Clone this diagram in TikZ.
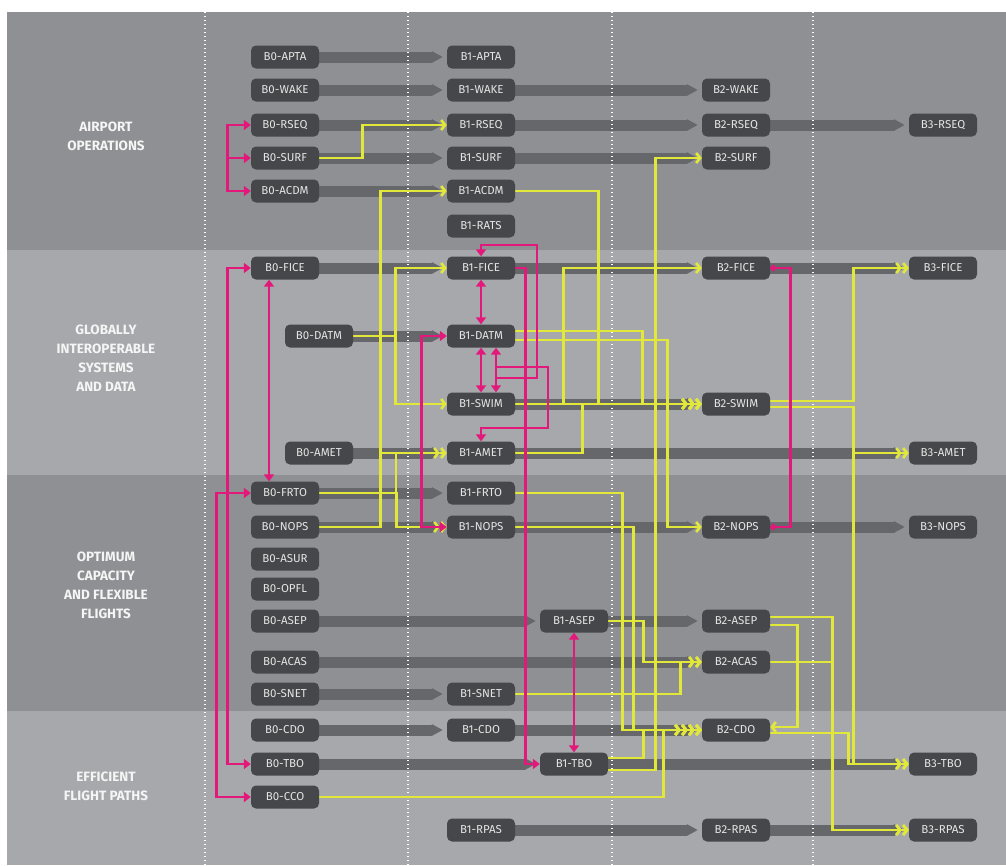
\documentclass[tikz,border=0pt]{standalone}
\usepackage{fontspec}
\setmainfont{Fira Sans}
\usetikzlibrary{arrows.meta}
\definecolor{bandA}{RGB}{143,144,148}
\definecolor{bandB}{RGB}{167,168,172}
\definecolor{threadgray}{RGB}{102,103,106}
\definecolor{modgray}{RGB}{70,71,74}
\definecolor{linkyellow}{RGB}{226,232,58}
\definecolor{linkpink}{RGB}{226,24,122}
\pgfdeclarelayer{bands}
\pgfdeclarelayer{bars}
\pgfdeclarelayer{links}
\pgfsetlayers{bands,bars,links,main}
\tikzset{
	tipA/.style={-{Straight Barb[length=4pt,width=10pt]}},
	tipB/.style={-{Straight Barb[length=4pt,width=10pt]Straight Barb[length=4pt,width=10pt]}},
	tipC/.style={-{Straight Barb[length=4pt,width=10pt]Straight Barb[length=4pt,width=10pt]Straight Barb[length=4pt,width=10pt]}},
	tipD/.style={-{Straight Barb[length=4pt,width=10pt]Straight Barb[length=4pt,width=10pt]Straight Barb[length=4pt,width=10pt]Straight Barb[length=4pt,width=10pt]}},
	module/.style={fill=modgray, rounded corners=5pt, minimum width=68pt, minimum height=23pt,
		inner sep=0pt, text=white!80!gray, font=\fontsize{11.5}{13}\selectfont},
	area/.style={align=center, text=white!92!gray, font=\fontsize{13.5}{19}\selectfont\bfseries},
	thread/.style={draw=threadgray, line width=11pt, -{Triangle[length=11pt,width=11pt]}, shorten >=4pt},
	ylw/.style={draw=linkyellow, line width=2.6pt},
	pnk/.style={draw=linkpink, line width=2.8pt, >={Triangle[length=7pt,width=10pt]}}
}
\begin{document}
\begin{tikzpicture}[x=1pt, y=-1pt]
	\useasboundingbox (0,0) rectangle (1006,865);
	\begin{pgfonlayer}{bands}
		\fill[white] (0,0) rectangle (1006,865);
		\fill[bandA] (7,12) rectangle (1006,250);
		\fill[bandB] (7,250) rectangle (1006,475);
		\fill[bandA] (7,475) rectangle (1006,711);
		\fill[bandB] (7,711) rectangle (1006,865);
	\end{pgfonlayer}
	\node[area] (ops) at (106,136) {AIRPORT\\OPERATIONS};
	\node[area] (sys) at (106,358) {GLOBALLY\\INTEROPERABLE\\SYSTEMS\\AND DATA};
	\node[area] (cap) at (106,585) {OPTIMUM\\CAPACITY\\AND FLEXIBLE\\FLIGHTS};
	\node[area] (fpa) at (106,786) {EFFICIENT\\FLIGHT PATHS};
	\def\blockzero{APTA/285/57, WAKE/285/90, RSEQ/285/125, SURF/285/158, ACDM/285/191, FICE/285/268,
		DATM/319/336, AMET/319/453, FRTO/285/493, NOPS/285/527, ASUR/285/559, OPFL/285/589,
		ASEP/285/621, ACAS/285/662, SNET/285/694, CDO/285/730, TBO/285/764, CCO/285/797}
	\def\blockone{APTA/481/57, WAKE/481/90, RSEQ/481/125, SURF/481/158, ACDM/481/191, RATS/481/226,
		FICE/481/268, DATM/481/336, SWIM/481/404, AMET/481/453, FRTO/481/493, NOPS/481/527,
		ASEP/574/621, SNET/481/694, CDO/481/730, TBO/574/764, RPAS/481/830}
	\def\blocktwo{WAKE/90, RSEQ/125, SURF/158, FICE/268, SWIM/404, NOPS/527, ASEP/621, ACAS/662,
		CDO/730, RPAS/830}
	\def\blockthree{RSEQ/125, FICE/268, AMET/453, NOPS/527, TBO/764, RPAS/830}
	\foreach \m/\x/\y in \blockzero{
		\node[module] (B0-\m) at (\x,\y) {B0-\m};
	}
	\foreach \m/\x/\y in \blockone{
		\node[module] (B1-\m) at (\x,\y) {B1-\m};
	}
	\foreach \m/\y in \blocktwo{
		\node[module] (B2-\m) at (736,\y) {B2-\m};
	}
	\foreach \m/\y in \blockthree{
		\node[module] (B3-\m) at (943,\y) {B3-\m};
	}
	\begin{pgfonlayer}{bars}
		\foreach \a/\b in {B0-APTA/B1-APTA, B0-WAKE/B1-WAKE, B1-WAKE/B2-WAKE, B0-RSEQ/B1-RSEQ,
			B1-RSEQ/B2-RSEQ, B2-RSEQ/B3-RSEQ, B0-SURF/B1-SURF, B1-SURF/B2-SURF, B0-ACDM/B1-ACDM,
			B0-FICE/B1-FICE, B1-FICE/B2-FICE, B2-FICE/B3-FICE, B0-DATM/B1-DATM, B1-SWIM/B2-SWIM,
			B0-AMET/B1-AMET, B1-AMET/B3-AMET, B0-FRTO/B1-FRTO, B0-NOPS/B1-NOPS, B1-NOPS/B2-NOPS,
			B2-NOPS/B3-NOPS, B0-ASEP/B1-ASEP, B1-ASEP/B2-ASEP, B0-ACAS/B2-ACAS, B0-SNET/B1-SNET,
			B0-CDO/B1-CDO, B1-CDO/B2-CDO, B0-TBO/B1-TBO, B1-TBO/B3-TBO, B1-RPAS/B2-RPAS, B2-RPAS/B3-RPAS}{
			\draw[thread] (\a.east) -- (\b.west);
		}
		\foreach \x in {205,408,612,813}{
			\draw[white, line width=1.2pt, dash pattern=on 1.2pt off 2.8pt] (\x,12) -- (\x,865);
		}
	\end{pgfonlayer}
	\begin{pgfonlayer}{links}
		\foreach \a/\d/\b/\t in {B0-SURF/43/B1-RSEQ/tipA, B0-NOPS/61/B1-ACDM/tipA, B0-DATM/42/B1-FICE/tipA,
			B0-DATM/42/B1-SWIM/tipA, B0-FRTO/77/B1-NOPS/tipB, B1-ACDM/83/B2-SWIM/tipC,
			B1-SWIM/48/B2-FICE/tipA, B1-AMET/67/B2-SWIM/tipC, B1-FRTO/107/B2-CDO/tipD,
			B1-NOPS/118/B2-CDO/tipD, B1-ASEP/35/B2-ACAS/tipB, B1-SNET/165/B2-ACAS/tipB,
			B0-CCO/344/B2-CDO/tipD, B2-ACAS/62/B3-RPAS/tipB}{
			\draw[ylw, \t] (\a.east) -- ++(\d,0) |- (\b.west);
		}
		\coordinate (amet1) at (380,453);
		\coordinate (amet2) at (396,453);
		\draw[ylw, tipB] (amet1) -- (B1-AMET.west);
		\draw[ylw] (amet2) -- (396,493);
		\draw[ylw, tipC] (B1-SWIM.east) -- (B2-SWIM.west);
		\draw[ylw, tipC] ([yshift=5pt]B1-DATM.east) -- ++(127,0) |- (B2-SWIM.west);
		\draw[ylw, tipA] ([yshift=-4pt]B1-DATM.east) -- ++(152,0) |- (B2-NOPS.west);
		\draw[ylw, tipB] ([yshift=3pt]B2-SWIM.east) -- ++(83,0) |- (B3-FICE.west);
		\draw[ylw, tipB] ([yshift=-3pt]B2-SWIM.east) -- ++(83,0) |- (B3-AMET.west);
		\draw[ylw, tipB] ([yshift=-3pt]B2-SWIM.east) -- ++(83,0) |- (B3-TBO.west);
		\draw[ylw, tipB] ([yshift=-3pt]B2-CDO.east) -- ++(78,0) |- (B3-TBO.west);
		\draw[ylw, tipB] ([yshift=4pt]B2-ASEP.east) -- ++(62,0) |- (B3-RPAS.west);
		\draw[ylw, tipA] ([yshift=-4pt]B2-ASEP.east) -- ++(27,0) |- ([yshift=3pt]B2-CDO.east);
		\draw[ylw, tipD] ([yshift=6pt]B1-TBO.east) -- ++(35,0) |- (B2-CDO.west);
		\draw[ylw, tipA] ([yshift=-6pt]B1-TBO.east) -- ++(47,0) |- (B2-SURF.west);
		\draw[pnk, <->] (B0-RSEQ.west) -- ++(-23,0) |- (B0-ACDM.west);
		\draw[pnk, ->] (B0-SURF.west) ++(-23,0) -- (B0-SURF.west);
		\draw[pnk, <->] (B0-FICE.west) -- ++(-23,0) |- (B0-TBO.west);
		\draw[pnk, <->] (B0-FRTO.west) -- ++(-34,0) |- (B0-CCO.west);
		\draw[pnk, <->] ([xshift=-16pt]B0-FICE.south) -- ([xshift=-16pt]B0-FRTO.north);
		\draw[pnk, <->] (B1-FICE.south) -- (B1-DATM.north);
		\draw[pnk, <->] (B1-DATM.south) -- (B1-SWIM.north);
		\draw[pnk, <->] ([xshift=15pt]B1-DATM.south) -- ([xshift=15pt]B1-SWIM.north);
		\coordinate (fork1) at (496,378);
		\coordinate (fork2) at (496,367);
		\draw[pnk, ->] (fork1) -- (537,378) -- (537,245) -| (B1-FICE.north);
		\draw[pnk, ->] (fork2) -- (548,367) -- (548,428) -| (B1-AMET.north);
		\draw[pnk, <->] (B1-DATM.west) -- ++(-25,0) |- (B1-NOPS.west);
		\draw[pnk, ->] (B1-FICE.east) -- ++(10,0) |- (B1-TBO.west);
		\draw[pnk, <->] (B1-ASEP.south) -- (B1-TBO.north);
		\draw[pnk, {Circle[length=6pt]}-{Circle[length=6pt]}] (B2-FICE.east) -- ++(20,0) |- (B2-NOPS.east);
	\end{pgfonlayer}
\end{tikzpicture}
\end{document}
